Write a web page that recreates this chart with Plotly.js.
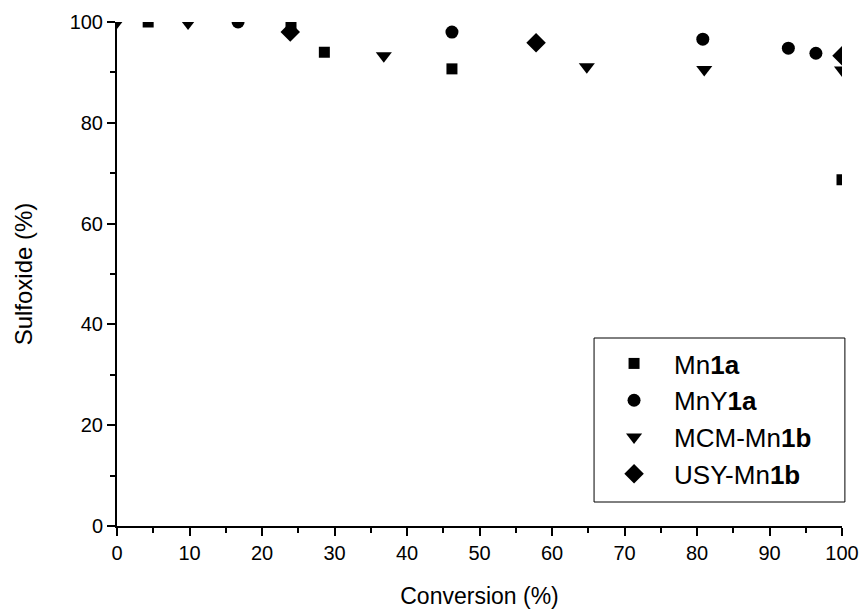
<!DOCTYPE html>
<html>
<head>
<meta charset="utf-8">
<script src="https://cdn.plot.ly/plotly-3.0.1.min.js"></script>
<style>html,body{margin:0;padding:0;background:#fff}#chart{width:861px;height:609px}</style>
</head>
<body>
<div id="chart"></div>
<script>
// Data
const seriesNames = ["Mn<b>1a</b>", "MnY<b>1a</b>", "MCM-Mn<b>1b</b>", "USY-Mn<b>1b</b>"];
const mn1aX = [4.3, 24.0, 28.6, 46.2, 100];
const mn1aY = [100, 99.0, 94.0, 90.7, 68.7];
const mnY1aX = [16.7, 46.2, 80.8, 92.6, 96.4];
const mnY1aY = [100, 98.0, 96.6, 94.8, 93.8];
const mcmX = [0, 9.8, 36.8, 64.8, 81.0, 100];
const mcmY = [100, 99.8, 93.3, 91.1, 90.6, 90.5];
const usyX = [23.9, 57.8, 100];
const usyY = [98.0, 95.9, 93.3];
const xTicks = [0, 10, 20, 30, 40, 50, 60, 70, 80, 90, 100];
const yTicks = [0, 20, 40, 60, 80, 100];

const FONT = "Liberation Sans, Arial, sans-serif";
function tr(x, y, name, symbol, size, group) {
  return {
    x: x, y: y, name: name, type: "scatter", mode: "markers",
    legendgroup: group, cliponaxis: true,
    marker: {symbol: symbol, size: size, color: "#000", line: {width: 0}}
  };
}
const data = [
  tr(mn1aX, mn1aY, seriesNames[0], "square", 11, "a"),
  tr(mnY1aX, mnY1aY, seriesNames[1], "circle", 13, "b"),
  tr(mcmX, mcmY, seriesNames[2], "triangle-down", 14, "c"),
  tr(usyX, usyY, seriesNames[3], "diamond", 15, "d")
];
const axisCommon = {
  showgrid: false, zeroline: false, showline: true, linecolor: "#000", linewidth: 2,
  ticks: "outside", ticklen: 8, tickwidth: 2, tickcolor: "#000",
  tickfont: {family: FONT, size: 20, color: "#000"},
  minor: {ticks: "outside", ticklen: 5, tickwidth: 2, tickcolor: "#000"},
  fixedrange: true
};
const layout = {
  width: 861, height: 609,
  margin: {l: 117, r: 19, t: 22, b: 83},
  paper_bgcolor: "#fff", plot_bgcolor: "#fff",
  font: {family: FONT, color: "#000"},
  showlegend: true,
  xaxis: Object.assign({}, axisCommon, {
    range: [0, 100], tickvals: xTicks, ticktext: xTicks.map(String),
    minor: Object.assign({}, axisCommon.minor, {dtick: 5, tick0: 0}),
    title: {text: "Conversion (%)", font: {family: FONT, size: 23, color: "#000"}, standoff: 26}
  }),
  yaxis: Object.assign({}, axisCommon, {
    range: [0, 100], tickvals: yTicks, ticktext: yTicks.map(String),
    minor: Object.assign({}, axisCommon.minor, {dtick: 10, tick0: 0}),
    title: {text: "Sulfoxide (%)", font: {family: FONT, size: 24, color: "#000"}, standoff: 30}
  }),
  shapes: [{
    type: "rect", xref: "paper", yref: "paper",
    x0: 0.658, x1: 1.004, y0: 0.0476, y1: 0.373,
    line: {color: "#000", width: 1}, fillcolor: "#fff", layer: "below"
  }],
  legend: {
    x: 0.658, y: 0.369, xanchor: "left", yanchor: "top",
    bgcolor: "rgba(0,0,0,0)", borderwidth: 0,
    font: {family: FONT, size: 26, color: "#000"},
    traceorder: "grouped", tracegroupgap: 0,
    itemwidth: 70
  }
};
Plotly.newPlot("chart", data, layout, {displayModeBar: false, staticPlot: true});
</script>
</body>
</html>
